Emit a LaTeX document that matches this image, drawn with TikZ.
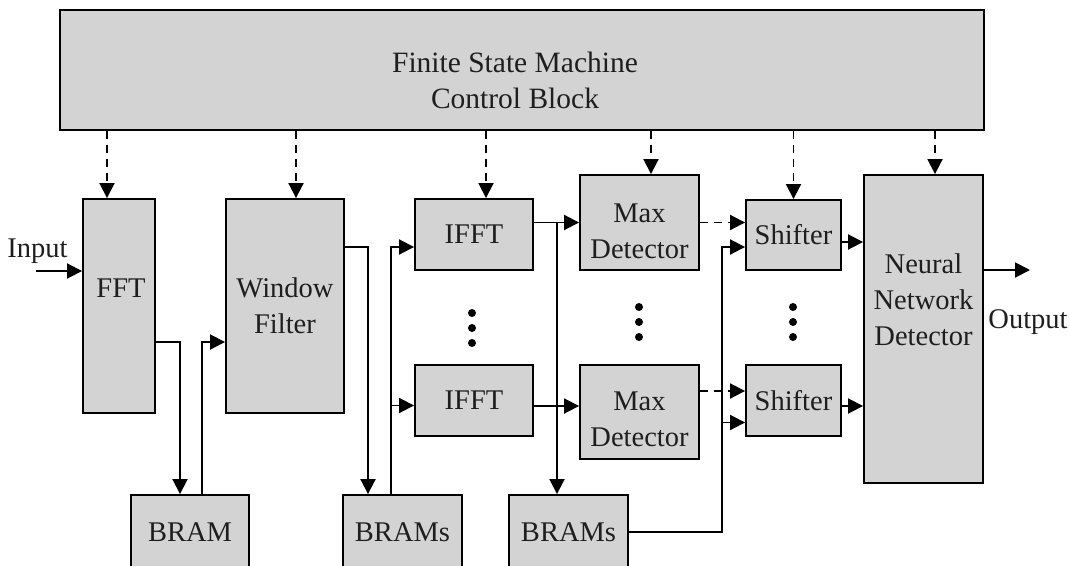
\documentclass[tikz,border=0pt]{standalone}
\usepackage{fontspec}
\setmainfont{Liberation Serif}
\usetikzlibrary{arrows.meta,calc}
\definecolor{boxgray}{RGB}{211,211,211}
\definecolor{ink}{RGB}{30,30,30}
\begin{document}
\begin{tikzpicture}[x=1pt,y=-1pt,
  font=\fontsize{28.5}{36}\selectfont, text=ink,
  blk/.style={draw=black, fill=boxgray, line width=1.9pt, inner sep=0pt, align=center},
  lbl/.style={align=center, inner sep=0pt},
  arr/.style={line width=1.9pt, -{Triangle[length=15pt,width=15pt]}},
  ctl/.style={arr, dash pattern=on 8pt off 6pt},
  dot/.style={fill=black},
]
\useasboundingbox (0,0) rectangle (1070,565);

% control block
\node[blk, minimum width=924, minimum height=120] (fsm) at (522,70) {};
\node[lbl, font=\fontsize{29.5}{36}\selectfont] (fsmtxt) at (515,80) {Finite State Machine\\Control Block};

% processing blocks
\node[blk, minimum width=72, minimum height=214] (fft) at (119,306) {};
\node[lbl] (ffttxt) at (121,288) {FFT};
\node[blk, minimum width=118, minimum height=214] (win) at (285,306) {Window\\Filter};
\node[blk, minimum width=118, minimum height=74] (bram) at (190,532) {BRAM};
\node[blk, minimum width=119, minimum height=74] (bramsA) at (402.5,532) {BRAMs};
\node[blk, minimum width=119, minimum height=74] (bramsB) at (568.5,532) {BRAMs};

\node[blk, minimum width=118, minimum height=71] (ifftA) at (474,234.5) {IFFT};
\node[blk, minimum width=118, minimum height=71] (ifftB) at (474,400.5) {IFFT};

\node[blk, minimum width=119, minimum height=95] (maxA) at (639.5,222.5) {};
\node[lbl] (maxAtxt) at (639.5,231) {Max\\Detector};
\node[blk, minimum width=119, minimum height=94] (maxB) at (639.5,412) {};
\node[lbl] (maxBtxt) at (639.5,419) {Max\\Detector};

\node[blk, minimum width=95, minimum height=70] (shA) at (793.5,235) {Shifter};
\node[blk, minimum width=95, minimum height=71] (shB) at (793.5,400.5) {Shifter};

\node[blk, minimum width=119, minimum height=308] (nn) at (923.5,329) {};
\node[lbl] (nntxt) at (923.5,300) {Neural\\Network\\Detector};

% input / output labels
\node[lbl, anchor=base] (intxt) at (37.5,257) {Input};
\node[lbl, anchor=base] (outtxt) at (1028,328) {Output};
\coordinate (in) at (36,271);
\coordinate (out) at (1030,270);

% control signals
\draw[ctl] ([xshift=-12]fft.north |- fsm.south) -- ([xshift=-12]fft.north);
\draw[ctl] ([xshift=11]win.north |- fsm.south) -- ([xshift=11]win.north);
\draw[ctl] ([xshift=12]ifftA.north |- fsm.south) -- ([xshift=12]ifftA.north);
\draw[ctl] ([xshift=11.5]maxA.north |- fsm.south) -- ([xshift=11.5]maxA.north);
\draw[ctl] (shA.north |- fsm.south) -- (shA.north);
\draw[ctl] ([xshift=11.5]nn.north |- fsm.south) -- ([xshift=11.5]nn.north);

% data path
\draw[arr] (in) -- (in -| fft.west);
\draw[arr] (fft.east) ++(0,36) -| ([xshift=-10]bram.north);
\draw[arr] ([xshift=12]bram.north) |- ($(win.west)+(0,36)$);
\draw[arr] ($(win.east)+(0,-59)$) -| ([xshift=-34.5]bramsA.north);
\draw[arr] ([xshift=-11.5]bramsA.north) |- ($(ifftA.west)+(0,12.5)$);
\draw[arr] ([xshift=-11.5]bramsA.north |- ifftB.west) ++(0,5) coordinate (fb) -- (fb -| ifftB.west);

\draw[arr] (ifftA.east |- maxA.west) -- (maxA.west);
\draw[arr] ([xshift=-11.5]bramsB.north |- maxA.west) -- ([xshift=-11.5]bramsB.north);
\draw[arr] ($(ifftB.east)+(0,5.5)$) coordinate (ib) -- (ib -| maxB.west);

\draw[ctl] (maxA.east) -- (maxA.east -| shA.west);
\draw[ctl] ($(maxB.east)+(0,-21)$) coordinate (mb) -- (mb -| shB.west);

\draw[arr] (bramsB.east) -| ($(shA.west)+(-23,12)$) -- ($(shA.west)+(0,12)$);
\draw[arr] ($(shB.west)+(-23,22)$) -- ($(shB.west)+(0,22)$);

\draw[arr] ($(shA.east)+(0,7)$) coordinate (sa) -- (sa -| nn.west);
\draw[arr] ($(shB.east)+(0,5.5)$) coordinate (sb) -- (sb -| nn.west);
\draw[arr] (nn.east |- out) -- (out);

% ellipsis dots
\foreach \y in {313,328,343} \fill[dot] (472,\y) circle[radius=4pt];
\foreach \y in {307,322,337} {
  \fill[dot] (639,\y) circle[radius=4pt];
  \fill[dot] (793,\y) circle[radius=4pt];
}
\end{tikzpicture}
\end{document}
